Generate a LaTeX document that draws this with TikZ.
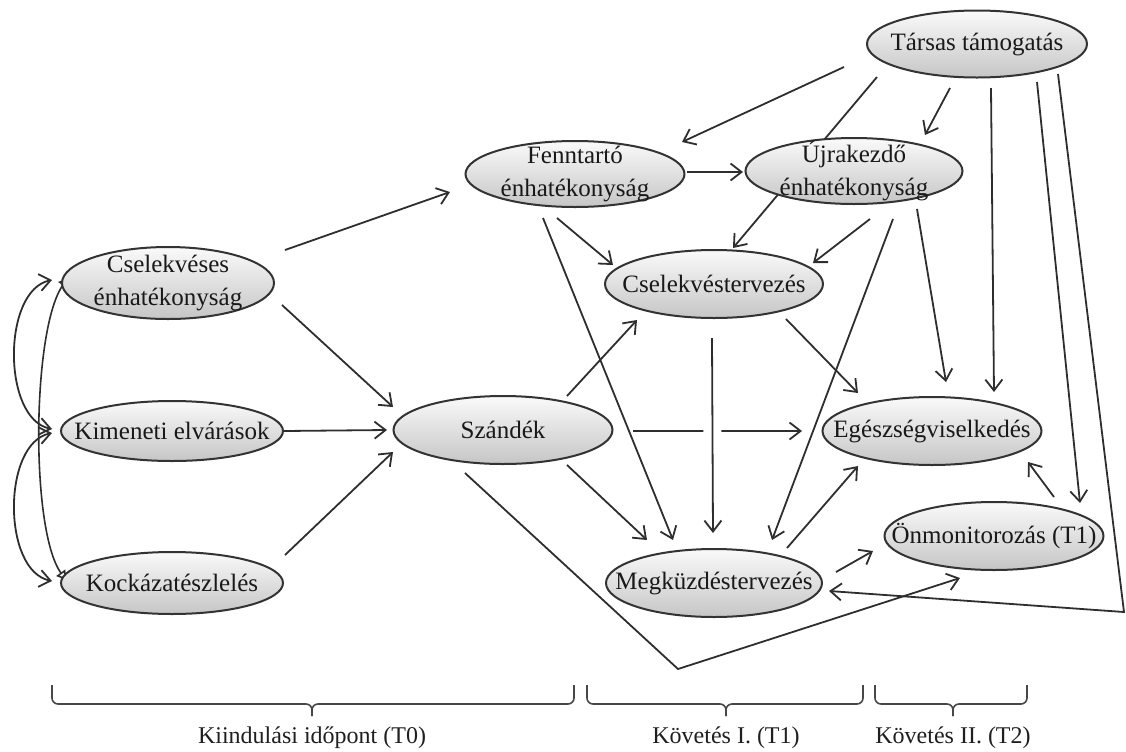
\documentclass[tikz,border=0pt]{standalone}
\usepackage{fontspec}
\setmainfont{Liberation Serif}
\usetikzlibrary{arrows.meta,calc,shapes.geometric}
\pgfdeclarelayer{background}
\pgfsetlayers{background,main}

\begin{document}
\begin{tikzpicture}[x=0.5pt,y=-0.5pt,
  factor/.style={ellipse, draw=black!80, line width=1pt,
    top color=gray!4, bottom color=gray!45, inner sep=0pt},
  ftext/.style={font=\fontsize{12.5}{16.5}\selectfont, text=black!90, align=center, inner sep=0pt},
  link/.style={draw=black!82, line width=0.9pt, -{Straight Barb[length=5.5pt,width=8.5pt]}},
  dbl/.style={draw=black!82, line width=0.9pt,
    {Straight Barb[length=5.5pt,width=8.5pt]}-{Straight Barb[length=5.5pt,width=8.5pt]}},
  tri/.style={draw=black!82, line width=0.8pt,
    {Triangle[open,length=4.5pt,width=5.5pt]}-{Triangle[open,length=4.5pt,width=5.5pt]}},
  bracket/.style={draw=black!72, line width=0.8pt, rounded corners=3pt},
  period/.style={font=\fontsize{12}{14}\selectfont, text=black!88, inner sep=0pt}
]
\useasboundingbox (0,0) rectangle (1126,751);

% ---- factors ----
\node[factor, minimum width=106pt, minimum height=36pt,
  label={[ftext]center:{Cselekvéses\\énhatékonyság}}] (cse) at (168,283) {};
\node[factor, minimum width=111pt, minimum height=30pt,
  label={[ftext]center:Kimeneti elvárások}] (kim) at (172,431) {};
\node[factor, minimum width=111pt, minimum height=31pt,
  label={[ftext]center:Kockázatészlelés}] (koc) at (172,583) {};
\node[factor, minimum width=109.5pt, minimum height=34pt,
  label={[ftext]center:Szándék}] (sza) at (503,430) {};
\node[factor, minimum width=109.5pt, minimum height=33pt,
  label={[ftext]center:{Fenntartó\\énhatékonyság}}] (fen) at (575,174) {};
\node[factor, minimum width=108.5pt, minimum height=33pt,
  label={[ftext]center:{Újrakezdő\\énhatékonyság}}] (ujr) at (854,171) {};
\node[factor, minimum width=110pt, minimum height=33.5pt,
  label={[ftext]center:Társas támogatás}] (tar) at (977,44) {};
\node[factor, minimum width=109pt, minimum height=34pt,
  label={[ftext]center:Cselekvéstervezés}] (csv) at (714,284) {};
\node[factor, minimum width=109.5pt, minimum height=34pt,
  label={[ftext]center:Egészségviselkedés}] (ege) at (932,431) {};
\node[factor, minimum width=108pt, minimum height=34pt,
  label={[ftext]center:Megküzdéstervezés}] (meg) at (714,583) {};
\node[factor, minimum width=109.5pt, minimum height=34pt,
  label={[ftext]center:Önmonitorozás (T1)}] (onm) at (994,536) {};

% bend points of the two routed connectors
\coordinate (tcorner) at (1124,612);
\coordinate (sbend) at (678,669);

% ---- connectors ----
\begin{pgfonlayer}{background}
  % correlations among the baseline factors
  \draw[dbl] ($(cse)+(-116,-3)$) .. controls +(-50,10) and +(-50,-10) .. ($(kim)+(-120,-2)$);
  \draw[dbl] ($(kim)+(-120,2)$) .. controls +(-50,10) and +(-50,-10) .. ($(koc)+(-120,-2)$);
  \draw[tri] ($(cse)+(-100,-5)$) .. controls +(-36,50) and +(-36,-50) .. ($(koc)+(-106,-3)$);

  % baseline to intention / maintenance
  \draw[link] ($(cse)+(117,-33)$) -- ($(fen)+(-125,18)$);
  \draw[link] ($(cse)+(114,22)$) -- ($(sza)+(-110,-23)$);
  \draw[link] ($(kim)+(112,0)$) -- ($(sza)+(-116,0)$);
  \draw[link] ($(koc)+(113,-28)$) -- ($(sza)+(-110,22)$);

  % self-efficacy
  \draw[link] ($(fen)+(112,-2)$) -- ($(ujr)+(-111,1)$);
  \draw[link] ($(fen)+(-18,44)$) -- ($(csv)+(-101,-19)$);
  \draw[link] ($(fen)+(-32,44)$) -- ($(meg)+(-41,-43)$);
  \draw[link] ($(ujr)+(16,48)$) -- ($(csv)+(99,-21)$);
  \draw[link] ($(ujr)+(39,48)$) -- ($(meg)+(58,-43)$);
  \draw[link] ($(ujr)+(63,38)$) -- ($(ege)+(14,-49)$);

  % social support
  \draw[link] ($(tar)+(-133,23)$) -- ($(fen)+(107,-32)$);
  \draw[link] ($(tar)+(-100,33)$) -- ($(csv)+(19,-36)$);
  \draw[link] ($(tar)+(-27,44)$) -- ($(ujr)+(71,-36)$);
  \draw[link] ($(tar)+(14,44)$) -- ($(ege)+(62,-39)$);
  \draw[link] ($(tar)+(60,38)$) -- ($(onm)+(86,-33)$);
  \draw[link] ($(tar)+(81,30)$) -- (tcorner) -- ($(meg)+(115,8)$);

  % intention
  \draw[link] ($(sza)+(64,-34)$) -- ($(csv)+(-77,36)$);
  \draw[link] ($(sza)+(130,1)$) -- ($(ege)+(-130,0)$);
  \draw[link] ($(sza)+(64,35)$) -- ($(meg)+(-67,-43)$);
  \draw[link] ($(sza)+(-38,43)$) -- (sbend) -- ($(onm)+(-34,42)$);

  % planning and monitoring
  \draw[link] ($(csv)+(72,35)$) -- ($(ege)+(-74,-38)$);
  \draw[link, preaction={draw=white, line width=9pt, arrows=-}] ($(csv)+(-2,54)$) -- ($(meg)+(-1,-50)$);
  \draw[link] ($(meg)+(73,-35)$) -- ($(ege)+(-74,35)$);
  \draw[link] ($(meg)+(122,-11)$) -- ($(onm)+(-121,15)$);
  \draw[link] ($(onm)+(60,-39)$) -- ($(ege)+(96,31)$);
\end{pgfonlayer}

% ---- measurement periods ----
\draw[bracket] (52,685) -- (52,704) -- (312,704) -- (312,716);
\draw[bracket] (312,716) -- (312,704) -- (574,704) -- (574,685);
\draw[bracket] (587,685) -- (587,704) -- (726,704) -- (726,716);
\draw[bracket] (726,716) -- (726,704) -- (863,704) -- (863,685);
\draw[bracket] (875,685) -- (875,704) -- (953,704) -- (953,716);
\draw[bracket] (953,716) -- (953,704) -- (1027,704) -- (1027,685);

\node[period] (p0) at (312,738) {Kiindulási időpont (T0)};
\node[period] (p1) at (726,738) {Követés I. (T1)};
\node[period] (p2) at (953,738) {Követés II. (T2)};
\end{tikzpicture}
\end{document}
